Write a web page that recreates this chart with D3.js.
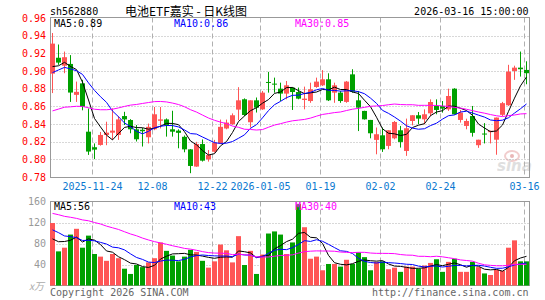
<!DOCTYPE html>
<html><head><meta charset="utf-8">
<script src="https://cdn.jsdelivr.net/npm/d3@7"></script>
<style>body{margin:0;background:#fff}svg{display:block}</style>
</head><body>
<svg id="chart" width="545" height="300"></svg>
<script>
// ---- data ----
const dates = ["2025-11-13","2025-11-14","2025-11-17","2025-11-18","2025-11-19","2025-11-20","2025-11-21","2025-11-24","2025-11-25","2025-11-26","2025-11-27","2025-11-28",
"2025-12-01","2025-12-02","2025-12-03","2025-12-04","2025-12-05","2025-12-08","2025-12-09","2025-12-10","2025-12-11","2025-12-12","2025-12-15","2025-12-16","2025-12-17","2025-12-18","2025-12-19","2025-12-22","2025-12-23","2025-12-24","2025-12-25","2025-12-26","2025-12-29","2025-12-30","2025-12-31",
"2026-01-05","2026-01-06","2026-01-07","2026-01-08","2026-01-09","2026-01-12","2026-01-13","2026-01-14","2026-01-15","2026-01-16","2026-01-19","2026-01-20","2026-01-21","2026-01-22","2026-01-23","2026-01-26","2026-01-27","2026-01-28","2026-01-29","2026-01-30",
"2026-02-02","2026-02-03","2026-02-04","2026-02-05","2026-02-06","2026-02-09","2026-02-10","2026-02-11","2026-02-12","2026-02-13","2026-02-24","2026-02-25","2026-02-26","2026-02-27",
"2026-03-02","2026-03-03","2026-03-04","2026-03-05","2026-03-06","2026-03-09","2026-03-10","2026-03-11","2026-03-12","2026-03-13","2026-03-16"];

const open  = [0.897,0.915,0.906,0.908,0.873,0.886,0.8313,0.8137,0.8163,0.8276,0.8302,0.8276,0.849,0.8445,0.834,0.8335,0.825,0.834,0.8437,0.8452,0.834,0.8325,
0.8255,0.8113,0.7918,0.8173,0.800,0.8086,0.818,0.8349,0.8398,0.8563,0.868,0.842,0.8668,0.8566,0.8876,0.8857,0.880,0.8744,0.8812,0.8762,0.8672,0.866,0.8819,0.8838,0.8906,0.8755,0.8755,0.865,0.8962,0.8668,
0.8548,0.8446,0.822,0.8272,0.8152,0.8238,0.8329,0.8095,0.8434,0.8499,0.8453,0.8521,0.8604,0.8604,0.8566,0.880,0.8446,0.8378,0.849,0.816,0.8292,0.8308,0.8222,0.8504,0.8612,0.900,0.9038,0.9012];
const high  = [0.943,0.930,0.922,0.918,0.888,0.890,0.8575,0.818,0.831,0.8426,0.8577,0.849,0.8538,0.8455,0.8388,0.8355,0.8405,0.8593,0.8593,0.8463,0.855,0.834,
0.827,0.8116,0.8198,0.8225,0.8105,0.822,0.845,0.845,0.852,0.8817,0.869,0.8668,0.870,0.8774,0.899,0.8925,0.8868,0.8887,0.8815,0.8812,0.8823,0.8868,0.8925,0.901,0.8974,0.8868,0.8774,0.8887,0.902,0.8774,
0.855,0.8446,0.836,0.836,0.833,0.8434,0.8378,0.8461,0.850,0.8536,0.8566,0.8679,0.8679,0.866,0.880,0.8805,0.8559,0.846,0.8604,0.8222,0.841,0.8325,0.8473,0.865,0.907,0.906,0.922,0.911];
const low   = [0.875,0.907,0.8975,0.865,0.865,0.8555,0.805,0.8002,0.8155,0.816,0.822,0.822,0.8388,0.8295,0.8202,0.8145,0.818,0.833,0.835,0.8257,0.8257,0.8125,
0.808,0.7843,0.7915,0.7975,0.7974,0.8075,0.8173,0.834,0.839,0.8443,0.849,0.836,0.853,0.856,0.8755,0.8755,0.866,0.868,0.8559,0.868,0.8566,0.864,0.881,0.883,0.866,0.864,0.864,0.864,0.8755,0.832,
0.845,0.8238,0.8057,0.8084,0.8114,0.8227,0.8133,0.8039,0.8385,0.8397,0.8397,0.849,0.851,0.8529,0.8548,0.8505,0.8416,0.834,0.8257,0.813,0.818,0.818,0.8052,0.849,0.8605,0.890,0.8937,0.885];
const close = [0.931,0.9095,0.9156,0.8756,0.8764,0.8595,0.8088,0.811,0.8276,0.8302,0.8325,0.8452,0.8452,0.834,0.8227,0.8318,0.8368,0.851,0.8452,0.8388,0.8313,0.830,
0.8113,0.7925,0.8173,0.7985,0.8049,0.8188,0.8368,0.8416,0.8499,0.8668,0.8502,0.8668,0.8585,0.8755,0.8872,0.8853,0.8744,0.8838,0.8762,0.8687,0.8687,0.8793,0.888,0.8906,0.8668,0.8838,0.866,0.888,0.8766,0.8585,
0.8453,0.8295,0.8284,0.8114,0.8329,0.8423,0.8197,0.8352,0.8499,0.8461,0.851,0.8649,0.8559,0.8574,0.8717,0.851,0.8529,0.8434,0.830,0.8222,0.8288,0.8323,0.8473,0.8636,0.8993,0.9038,0.902,0.8975];
// volume in 万 (x10k)
const volume = [119,65,72,97,108,72,95,60,55,47,60,52,32,22,39,35,44,52,82,66,57,46,
55,68,64,47,34,46,78,67,44,94,39,66,22,59,99,103,97,60,82,155,111,51,55,29,41,41,36,49,41,63,
54,29,45,46,31,34,26,36,36,32,38,43,50,26,45,51,26,26,45,35,23,20,30,28,72,86,46,46];

// estimated sessions before the visible window (only used for the moving averages)
const priorClose = [0.848,0.852,0.862,0.858,0.865,0.855,0.86,0.845,0.83,0.815,0.80,0.795,0.79,0.80,0.798,0.805,0.82,0.84,0.855,0.87,0.88,0.886,0.893,0.897,0.901,0.905,0.896,0.899,0.894];
const priorVolume = [140,165,150,172,158,145,160,138,170,155,148,162,150,141,168,152,146,158,139,143,118,135,110,128,125,92,70,85,78];

const priceTicks = [0.78,0.80,0.82,0.84,0.86,0.88,0.90,0.92,0.94,0.96];
const volTicks = [40,80,120,160];
const tickDates = ["2025-11-24","2025-12-08","2025-12-22","2026-01-05","2026-01-19","2026-02-02","2026-02-24","2026-03-16"];
const tickLabels = ["2025-11-24","12-08","12-22","2026-01-05","01-19","02-02","02-24","03-16"];
const maPeriods = [5,10,30];

// ---- drawing ----
const svg = d3.select("#chart");
const MONO = "'DejaVu Sans Mono','Liberation Mono',monospace";
const UP = "#ff5555", DOWN = "#00a000", FRAME = "#999", GRID = "#b0b0b0";
const maColors = ["#000000","#0000ff","#ff00ff"];
const L = 50.5, R = 529.5;

const x = d3.scaleBand().domain(d3.range(dates.length)).range([49.5, 529.5]).paddingInner(0).paddingOuter(0);
const cx = i => x(i) + 3;
const yP = d3.scaleLinear().domain([0.78, 0.96]).range([177, 18]);
const yV = d3.scaleLinear().domain([0, 160]).range([285.5, 201.5]);

function movingAvg(prior, vals, n) {
  const all = prior.concat(vals), off = prior.length;
  return vals.map((_, i) => d3.mean(all.slice(off + i - n + 1, off + i + 1)));
}

// header
svg.append("text").attr("x", 50).attr("y", 15).attr("font-family", MONO).attr("font-size", 10).text("sh562880");
svg.append("text").attr("x", 186).attr("y", 15.5).attr("text-anchor", "middle")
  .attr("font-family", "'Noto Sans CJK SC','DejaVu Sans',sans-serif").attr("font-size", 12).text("电池ETF嘉实 - 日K线图");
svg.append("text").attr("x", 528.5).attr("y", 15).attr("text-anchor", "end").attr("font-family", MONO).attr("font-size", 10)
  .text(dates[dates.length - 1] + " 15:00:00");

// watermark
const wm = svg.append("g").attr("opacity", 0.9);
wm.append("ellipse").attr("cx", 512).attr("cy", 156).attr("rx", 7).attr("ry", 5).attr("fill", "none").attr("stroke", "#f0c8c8").attr("stroke-width", 2);
wm.append("circle").attr("cx", 512).attr("cy", 156).attr("r", 2).attr("fill", "#e8b0b0");
wm.append("text").attr("x", 497).attr("y", 171).attr("font-family", "'DejaVu Sans',sans-serif").attr("font-size", 15)
  .attr("font-style", "italic").attr("font-weight", "bold").attr("fill", "#dcdcdc").text("sina");

function panel(yScale, ticks, top, bottom) {
  const g = svg.append("g");
  // horizontal dotted grid
  g.selectAll("line.h").data(ticks).join("line")
    .attr("x1", L).attr("x2", R)
    .attr("y1", d => Math.round(yScale(d)) + 0.5).attr("y2", d => Math.round(yScale(d)) + 0.5)
    .attr("stroke", GRID).attr("stroke-dasharray", "1,2");
  // vertical dashed grid
  g.selectAll("line.v").data(tickDates).join("line")
    .attr("x1", d => x(dates.indexOf(d)) + 1).attr("x2", d => x(dates.indexOf(d)) + 1)
    .attr("y1", top).attr("y2", bottom)
    .attr("stroke", GRID).attr("stroke-dasharray", "5,3");
  // frame
  g.append("rect").attr("x", L).attr("y", top).attr("width", R - L).attr("height", bottom - top)
    .attr("fill", "none").attr("stroke", FRAME);
  return g;
}

// price panel
panel(yP, priceTicks.slice(1, -1), 17.5, 177.5);
svg.append("g").selectAll("text").data(priceTicks).join("text")
  .attr("x", 46).attr("y", d => yP(d) + 3.5).attr("text-anchor", "end")
  .attr("font-family", MONO).attr("font-size", 10).attr("fill", "#ff0000").text(d => d.toFixed(2));

// candles
const cg = svg.append("g");
dates.forEach((d, i) => {
  const up = close[i] >= open[i];
  const col = up ? UP : DOWN;
  cg.append("line").attr("x1", cx(i)).attr("x2", cx(i)).attr("y1", yP(high[i])).attr("y2", yP(low[i])).attr("stroke", col);
  const yt = yP(Math.max(open[i], close[i])), yb = yP(Math.min(open[i], close[i]));
  cg.append("rect").attr("x", x(i) + 0.5).attr("width", 5).attr("y", yt).attr("height", Math.max(1, yb - yt)).attr("fill", col);
});

// price MAs
const priceMA = maPeriods.map(n => movingAvg(priorClose, close, n));
priceMA.forEach((m, k) => {
  svg.append("path").datum(m).attr("fill", "none").attr("stroke", maColors[k]).attr("stroke-width", 1)
    .attr("d", d3.line().x((v, i) => cx(i)).y(v => yP(v)));
});
const legX = [54, 174, 295];
maPeriods.forEach((n, k) => {
  svg.append("text").attr("x", legX[k]).attr("y", 27).attr("font-family", MONO).attr("font-size", 10).attr("fill", maColors[k])
    .text("MA" + n + ":" + priceMA[k][priceMA[k].length - 1].toFixed(2));
});

// date labels
svg.append("g").selectAll("text").data(tickDates).join("text")
  .attr("x", (d) => x(dates.indexOf(d)) + 1).attr("y", 190).attr("text-anchor", "middle")
  .attr("font-family", MONO).attr("font-size", 10).attr("fill", "#0a78d0").text((d, i) => tickLabels[i]);

// volume panel
panel(yV, volTicks.slice(0, -1), 201.5, 285.5);
svg.append("g").selectAll("text").data(volTicks).join("text")
  .attr("x", 46).attr("y", d => yV(d) + 3.5).attr("text-anchor", "end")
  .attr("font-family", MONO).attr("font-size", 10).attr("fill", "#999").text(d => d);
svg.append("text").attr("x", 29).attr("y", 289.5).attr("font-family", "'Noto Sans CJK SC',sans-serif").attr("font-size", 10)
  .attr("font-style", "italic").attr("fill", "#aaa").text("x万");

const vg = svg.append("g");
vg.selectAll("rect").data(volume).join("rect")
  .attr("x", (v, i) => x(i) + 0.5).attr("width", 5)
  .attr("y", v => yV(v)).attr("height", v => yV(0) - yV(v))
  .attr("fill", (v, i) => close[i] >= open[i] ? UP : DOWN);

const volMA = maPeriods.map(n => movingAvg(priorVolume, volume, n));
volMA.forEach((m, k) => {
  svg.append("path").datum(m).attr("fill", "none").attr("stroke", maColors[k]).attr("stroke-width", 1)
    .attr("d", d3.line().x((v, i) => cx(i)).y(v => yV(v)));
});
maPeriods.forEach((n, k) => {
  svg.append("text").attr("x", legX[k]).attr("y", 210).attr("font-family", MONO).attr("font-size", 10).attr("fill", maColors[k])
    .text("MA" + n + ":" + Math.round(volMA[k][volMA[k].length - 1]));
});

// footer
svg.append("text").attr("x", 50).attr("y", 296).attr("font-family", MONO).attr("font-size", 10).attr("fill", "#666").text("Copyright 2026 SINA.COM");
svg.append("text").attr("x", 528.5).attr("y", 296).attr("text-anchor", "end").attr("font-family", MONO).attr("font-size", 10).attr("fill", "#666").text("http://finance.sina.com.cn");
</script>
</body></html>
